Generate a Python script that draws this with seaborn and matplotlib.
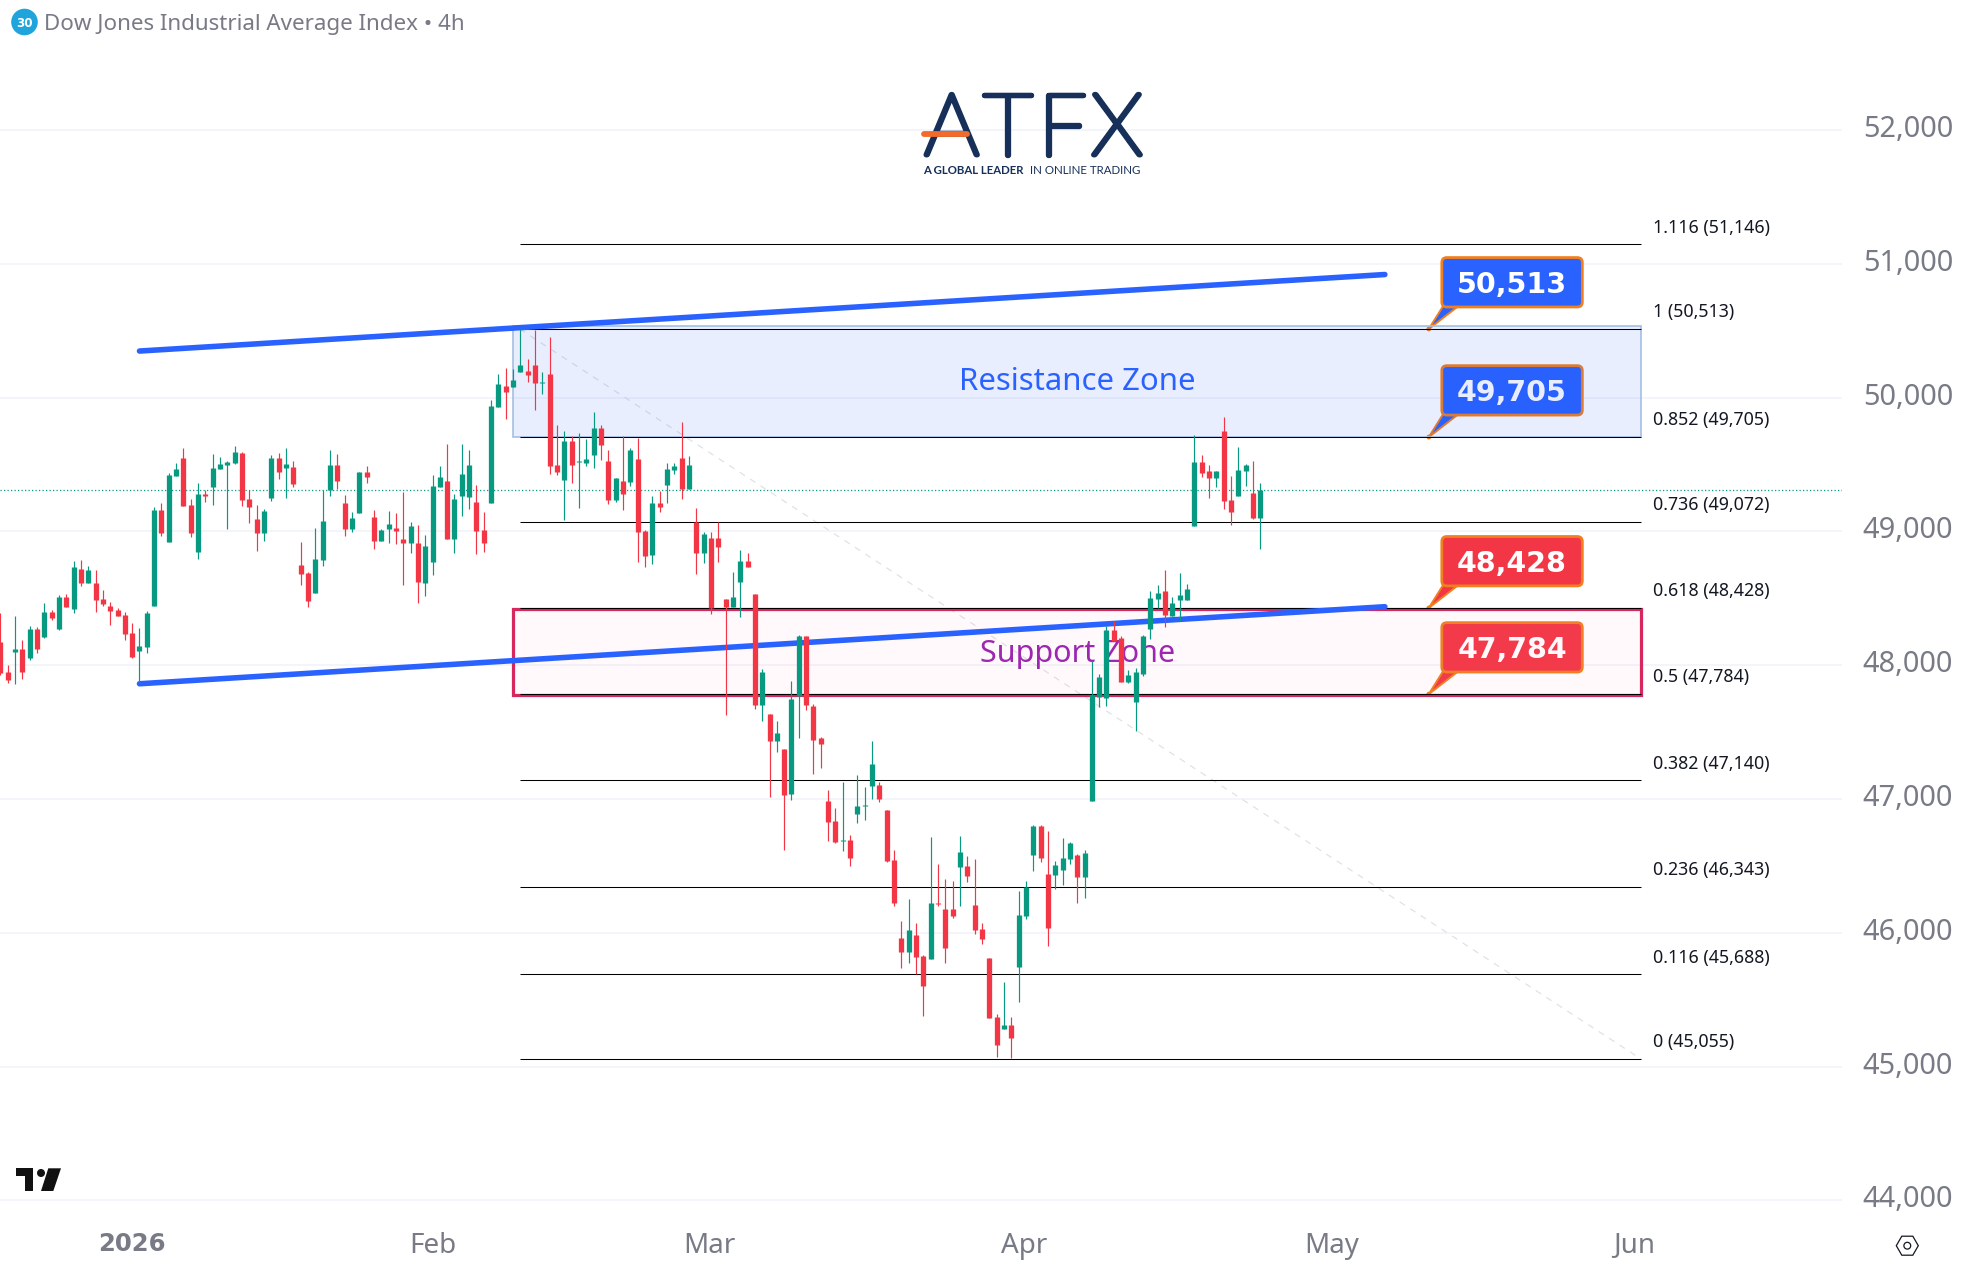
import pandas as pd
import matplotlib.pyplot as plt
import matplotlib.patheffects as pe
import seaborn as sns
from matplotlib.patches import Rectangle, FancyBboxPatch, Polygon, Circle
from matplotlib.transforms import IdentityTransform, ScaledTranslation

# candle values
directions = list(
    "RRGRGRGRGR" "GRGRRRRRRG" "GGRGGRRGRG" "GGGRRRGGRG" "RRRGGGRRGG" "RRGGRRGRGG"
    "GRGGGRRGGR" "GGRRGRRGRG" "GGRRGRGRRG" "RGGRGRGRRR" "GGRRGRGRGG" "RRRRRGRGGG"
    "RRRRGRRGRR" "RGRRRRRGRG" "GGRRGGGRGG" "GGRRGGGGGR" "GGGGRRGRRG" "GRG"
)
highs = [48393, 48002, 48368, 48189, 48293, 48283, 48462, 48413, 48525, 48530,
         48778, 48786, 48741, 48711, 48562, 48472, 48430, 48395, 48318, 48276,
         48405, 49181, 49211, 49435, 49510, 49622, 49241, 49361, 49308, 49577,
         49555, 49525, 49637, 49592, 49308, 49196, 49166, 49570, 49584, 49622,
         49525, 48920, 48696, 49025, 49308, 49607, 49577, 49271, 49144, 49443,
         49487, 49159, 49017, 49152, 49137, 49293, 49070, 49047, 48972, 49420,
         49487, 49652, 49278, 49652, 49607, 49346, 49144, 49980, 50174, 50219,
         50211, 50515, 50286, 50503, 50189, 50450, 49798, 49747, 49712, 49734,
         49688, 49896, 49798, 49606, 49398, 49710, 49627, 49699, 49014, 49267,
         49299, 49510, 49512, 49814, 49560, 49174, 48993, 48993, 49073, 48492,
         48694, 48860, 48838, 48532, 47972, 47634, 47580, 47372, 47881, 48225,
         48220, 47713, 47460, 47066, 46929, 47123, 46730, 47178, 47089, 47432,
         47123, 46917, 46618, 46088, 46252, 46073, 45833, 46715, 46513, 46401,
         46386, 46723, 46573, 46551, 46073, 45811, 45393, 45632, 45370, 46312,
         46386, 46805, 46805, 46760, 46536, 46708, 46678, 46588, 46618, 48029,
         47937, 48291, 48333, 48221, 47967, 47982, 48229, 48557, 48602, 48714,
         48512, 48692, 48610, 49723, 49573, 49498, 49454, 49857, 49416, 49633,
         49506, 49528, 49364]
body_top = [48176, 47947, 48122, 48122, 48271, 48271, 48398, 48398, 48510, 48510,
            48734, 48719, 48711, 48614, 48495, 48443, 48413, 48375, 48241, 48144,
            48390, 49159, 49159, 49420, 49465, 49547, 49196, 49278, 49278, 49473,
            49502, 49517, 49592, 49584, 49241, 49092, 49152, 49547, 49547, 49502,
            49480, 48749, 48689, 48793, 49077, 49495, 49495, 49211, 49099, 49443,
            49443, 49107, 49010, 49055, 49025, 48943, 49040, 48913, 48890, 49338,
            49405, 49376, 49241, 49428, 49495, 49219, 49010, 49935, 50100, 50085,
            50129, 50241, 50197, 50241, 50114, 50174, 49494, 49672, 49672, 49523,
            49539, 49771, 49771, 49523, 49398, 49374, 49608, 49539, 49001, 49211,
            49211, 49464, 49486, 49547, 49494, 49073, 48979, 48950, 48950, 48492,
            48508, 48777, 48777, 48532, 47948, 47634, 47495, 47372, 47748, 48220,
            48215, 47695, 47452, 46984, 46835, 46693, 46693, 46947, 46954, 47260,
            47103, 46917, 46543, 45961, 46020, 45983, 45826, 46222, 46220, 46177,
            46177, 46603, 46498, 46207, 46028, 45811, 45370, 45311, 45311, 46132,
            46342, 46797, 46797, 46439, 46506, 46558, 46670, 46580, 46596, 47780,
            47915, 48266, 48266, 48206, 47930, 47952, 48221, 48505, 48542, 48557,
            48468, 48527, 48572, 49521, 49521, 49454, 49454, 49752, 49237, 49461,
            49498, 49289, 49312]
body_bottom = [47945, 47890, 48099, 47952, 48054, 48124, 48211, 48355, 48271, 48435,
               48420, 48614, 48614, 48487, 48457, 48405, 48368, 48234, 48062, 48107,
               48137, 48443, 48987, 48920, 49413, 49189, 48987, 48846, 49264, 49331,
               49465, 49495, 49510, 49234, 49181, 48987, 48987, 49246, 49443, 49473,
               49353, 48681, 48480, 48540, 48786, 49306, 49376, 49017, 49017, 49137,
               49405, 48928, 48928, 49017, 49002, 48913, 48913, 48622, 48614, 48771,
               49331, 48943, 48943, 49264, 49256, 49002, 48913, 49211, 49928, 50040,
               50077, 50189, 50167, 50107, 50107, 49487, 49446, 49382, 49494, 49518,
               49512, 49571, 49646, 49233, 49233, 49278, 49366, 48993, 48814, 48822,
               49179, 49344, 49456, 49318, 49318, 48838, 48838, 48428, 48886, 48438,
               48438, 48620, 48732, 47705, 47705, 47434, 47434, 47026, 47034, 47772,
               47705, 47442, 47412, 46830, 46680, 46685, 46561, 46889, 46949, 47098,
               46999, 46538, 46222, 45856, 45856, 45819, 45602, 45804, 46212, 45886,
               46125, 46491, 46424, 46020, 45953, 45363, 45161, 45281, 45214, 45744,
               46125, 46581, 46558, 46035, 46431, 46468, 46551, 46416, 46416, 46984,
               47765, 47751, 48184, 47877, 47877, 47721, 47937, 48273, 48497, 48378,
               48370, 48490, 48490, 49043, 49439, 49401, 49401, 49230, 49147, 49267,
               49454, 49103, 49103]
lows = [47930, 47865, 47858, 47898, 48040, 48094, 48206, 48338, 48261, 48435,
        48393, 48592, 48614, 48398, 48443, 48301, 48368, 48189, 48054, 47865,
        48092, 48443, 48965, 48920, 49413, 49189, 48957, 48793, 49219, 49196,
        49465, 49017, 49502, 49189, 49062, 48853, 48928, 49226, 49390, 49249,
        49331, 48599, 48435, 48540, 48741, 49264, 49316, 48965, 48995, 49137,
        49361, 48868, 48928, 48913, 48905, 48599, 48838, 48465, 48517, 48674,
        49331, 48943, 48838, 49114, 49167, 48831, 48846, 49211, 49928, 49838,
        50077, 50189, 50114, 49905, 50025, 49428, 49424, 49086, 49360, 49177,
        49486, 49472, 49531, 49203, 49219, 49161, 49339, 48772, 48732, 48758,
        49142, 49214, 49427, 49243, 49318, 48681, 48766, 48385, 48772, 47631,
        48438, 48361, 48732, 47674, 47586, 47015, 47354, 46621, 46989, 47452,
        47668, 47188, 47234, 46688, 46668, 46613, 46498, 46822, 46842, 46999,
        46979, 46531, 46202, 45739, 45776, 45692, 45378, 45804, 46200, 45776,
        46107, 46200, 46379, 45990, 45916, 45363, 45072, 45281, 45064, 45482,
        46103, 46461, 46528, 45901, 46327, 46356, 46513, 46222, 46259, 46984,
        47691, 47698, 48179, 47872, 47863, 47511, 47922, 48199, 48430, 48288,
        48370, 48331, 48490, 49043, 49409, 49252, 49334, 49170, 49050, 49267,
        49342, 49095, 48871]
last_price = 49306

# fib levels and annotations
fib_ratios = ["1.116", "1", "0.852", "0.736", "0.618", "0.5", "0.382", "0.236", "0.116", "0"]
fib_prices = [51146, 50513, 49705, 49072, 48428, 47784, 47140, 46343, 45688, 45055]
callout_prices = [50513, 49705, 48428, 47784]
callout_colors = ["#2962ff", "#2962ff", "#f23645", "#f23645"]
channel_bars = [19, 189]
channel_upper = [50348, 50920]
channel_lower = [47861, 48437]
resistance_zone = [49705, 50534]
support_zone = [47780, 48420]

price_ticks = list(range(44000, 53000, 1000))
date_tick_bars = [18, 59, 96.8, 139.8, 181.8, 223]
date_tick_labels = ["2026", "Feb", "Mar", "Apr", "May", "Jun"]

UP = "#089981"
DOWN = "#f23645"
GREY = "#787b86"
NAVY = "#16305a"
W, H = 1969, 1269

sns.set_theme(style="white")
plt.rcParams["font.family"] = ["Noto Sans", "DejaVu Sans"]

fig = plt.figure(figsize=(W / 100, H / 100), dpi=100, facecolor="white")
ax = fig.add_axes([0, (H - 1213) / H, 1842 / W, 1213 / H])
ax.set_xlim(-0.04, 251.4)
ax.set_ylim(43905, 52972)
for s in ax.spines.values():
    s.set_visible(False)


def px(x, y):
    # figure pixels, measured from the top left
    return x / W, 1 - y / H


# candles
candles = pd.DataFrame({"bar": range(len(highs)), "dir": directions, "high": highs,
                        "top": body_top, "bottom": body_bottom, "low": lows})
wicks = candles.melt(id_vars=["bar", "dir"], value_vars=["high", "low"], value_name="price")
bodies = candles.melt(id_vars=["bar", "dir"], value_vars=["top", "bottom"], value_name="price")
palette = {"G": UP, "R": DOWN}
sns.lineplot(data=wicks, x="bar", y="price", hue="dir", units="bar", estimator=None, sort=False,
             palette=palette, lw=0.85, legend=False, ax=ax, zorder=6, solid_capstyle="butt")
sns.lineplot(data=bodies, x="bar", y="price", hue="dir", units="bar", estimator=None, sort=False,
             palette=palette, lw=3.8, legend=False, ax=ax, zorder=6, solid_capstyle="butt")

# grid and last price line
ax.set_yticks(price_ticks)
ax.set_yticklabels([f"{p:,}" for p in price_ticks])
ax.yaxis.tick_right()
ax.grid(axis="y", color="#f0f3fa", lw=1.1)
ax.set_axisbelow(True)
ax.axhline(last_price, color=UP, lw=0.9, ls=(0, (1, 1.8)), zorder=1)
ax.set_xticks(date_tick_bars)
ax.set_xticklabels(date_tick_labels)
ax.set_xlabel("")
ax.set_ylabel("")
ax.tick_params(axis="y", length=0, pad=15, labelsize=20.8, labelcolor=GREY)
ax.tick_params(axis="x", length=0, pad=14, labelsize=20, labelcolor=GREY)
nudge = ScaledTranslation(0, 4 / 100, fig.dpi_scale_trans)
for label in ax.get_yticklabels():
    label.set_transform(label.get_transform() + nudge)
first_label = ax.get_xticklabels()[0]
first_label.set_fontfamily("DejaVu Sans")
first_label.set_fontweight("bold")
first_label.set_fontsize(17.6)

# fib levels
fib_start, fib_end = 70.9, 224
ax.hlines(fib_prices, fib_start, fib_end, color="black", lw=0.75, zorder=4, snap=True)
ax.plot([fib_start, fib_end], [fib_prices[1], fib_prices[-1]], color="#dfe2e8", lw=0.9,
        ls=(0, (5, 5)), zorder=2)
for ratio, price in zip(fib_ratios, fib_prices):
    ax.annotate(f"{ratio} ({price:,})", (fib_end, price), xytext=(8.4, 12), textcoords="offset points",
                va="center", ha="left", fontsize=12.8, color="#131722", annotation_clip=False)

# callouts sit under the zones, the zone fill tints them
tip_bar = 195
for price, color in zip(callout_prices, callout_colors):
    tx, ty = ax.transData.transform((tip_bar, price))
    left, bottom, width, height = tx + 13, ty + 22, 140.5, 49.4
    identity = IdentityTransform()
    ax.add_patch(Polygon([(tx, ty), (tx + 15, bottom + 2), (tx + 31, bottom + 2)], closed=True, fc=color,
                         ec="#f07f1e", lw=1.4, transform=identity, zorder=2.2, clip_on=False))
    ax.add_patch(Circle((tx, ty), 2.4, fc="#f07f1e", ec="none", transform=identity, zorder=2.3))
    ax.add_patch(FancyBboxPatch((left, bottom), width, height, boxstyle="round,pad=0,rounding_size=5",
                                mutation_scale=1, fc=color, ec="#f07f1e", lw=2, transform=identity,
                                zorder=2.4, clip_on=False))
    ax.text(left + width / 2, bottom + height / 2, f"{price:,}", transform=identity, ha="center",
            va="center_baseline", color="white", fontsize=20.5, family="DejaVu Sans", fontweight="bold",
            zorder=2.5)

# zones
ax.add_patch(Rectangle((70, resistance_zone[0]), fib_end - 70, resistance_zone[1] - resistance_zone[0],
                       fc=(0.16, 0.38, 1, 0.1), ec="#a3c0e4", lw=1.2, zorder=3))
ax.add_patch(Rectangle((70, support_zone[0]), fib_end - 70, support_zone[1] - support_zone[0],
                       fc=(1, 0.55, 0.7, 0.05), ec="#d6285f", lw=2.3, zorder=3))
ax.text(147, 50115, "Resistance Zone", color="#2962ff", fontsize=22.4, ha="center", va="center", zorder=3.5)
ax.text(147, 48085, "Support Zone", color="#9c27b0", fontsize=22, ha="center", va="center", zorder=3.5)

# channel
ax.plot(channel_bars, channel_upper, color="#2962ff", lw=4, solid_capstyle="round", zorder=5)
ax.plot(channel_bars, channel_lower, color="#2962ff", lw=4, solid_capstyle="round", zorder=5)

# header
fig.patches.append(Circle((24.5, H - 22), 13.3, fc="#1fa5dc", ec="none", transform=IdentityTransform()))
fig.text(*px(24.5, 22), "30", color="white", fontsize=8.6, family="DejaVu Sans", fontweight="bold",
         ha="center", va="center_baseline")
fig.text(*px(44, 22), "Dow Jones Industrial Average Index • 4h", color=GREY, fontsize=16.1, va="center_baseline")

# ATFX logo, thin letters thickened with a round stroke
for letter, lx in zip("ATFX", [951.7, 1007.5, 1062, 1117]):
    fig.text(*px(lx, 154.8), letter, color=NAVY, fontsize=62, family="Lato", fontweight="light",
             ha="center", va="baseline",
             path_effects=[pe.withStroke(linewidth=3.8, foreground=NAVY, capstyle="round", joinstyle="round")])
fig.add_artist(plt.Line2D([923.5 / W, 967 / W], [1 - 134 / H, 1 - 134 / H], color="#f26b2a", lw=4.2,
                          solid_capstyle="round", zorder=5))
fig.text(*px(923, 171), "A GLOBAL LEADER", color=NAVY, fontsize=8.2, family="Lato", fontweight="bold", va="center")
fig.text(*px(1030, 171), "IN ONLINE TRADING", color=NAVY, fontsize=8.3, family="Lato", va="center")

# tradingview mark and settings icon
identity = IdentityTransform()
fig.patches.append(Polygon([(16, H - 1168.3), (33.3, H - 1168.3), (33.3, H - 1191), (25, H - 1191),
                            (25, H - 1176), (16, H - 1176)], fc="#111111", ec="none", transform=identity))
fig.patches.append(Polygon([(48.3, H - 1168.3), (61, H - 1168.3), (53.3, H - 1191), (41, H - 1191)],
                           fc="#111111", ec="none", transform=identity))
fig.patches.append(Circle((41, H - 1173), 4, fc="#111111", ec="none", transform=identity))
hx, hy = 1907.3, H - 1245.7
fig.patches.append(Polygon([(hx - 11, hy), (hx - 5.5, hy + 9.5), (hx + 5.5, hy + 9.5), (hx + 11, hy),
                            (hx + 5.5, hy - 9.5), (hx - 5.5, hy - 9.5)], fc="none", ec="#131722", lw=0.9,
                           transform=identity))
fig.patches.append(Circle((hx, hy), 3.4, fc="none", ec="#131722", lw=0.9, transform=identity))

fig.savefig("out.png", dpi=100)
